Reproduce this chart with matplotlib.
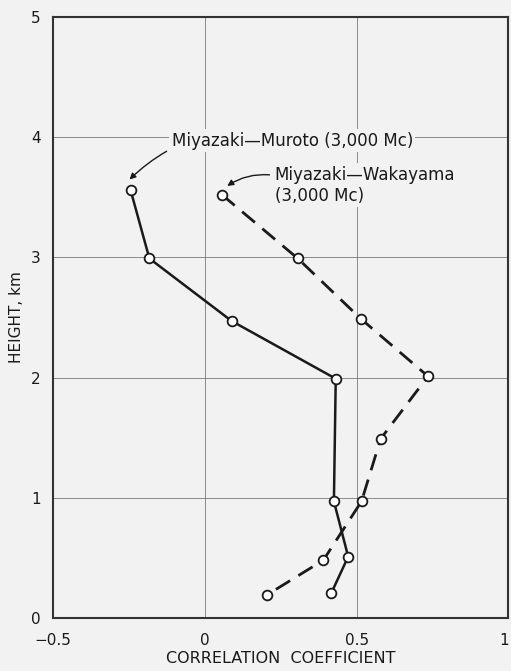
import matplotlib.pyplot as plt

# correlation coefficient vs height
muroto_r = [-0.245, -0.183, 0.088, 0.431, 0.425, 0.472, 0.417]
muroto_h = [3.56, 2.99, 2.47, 1.99, 0.97, 0.51, 0.21]

wakayama_r = [0.056, 0.306, 0.513, 0.735, 0.579, 0.516, 0.390, 0.203]
wakayama_h = [3.52, 2.99, 2.49, 2.01, 1.49, 0.97, 0.48, 0.19]

xticks = [-0.5, 0, 0.5, 1]
xticklabels = ["\u22120.5", "0", "0.5", "1"]
yticks = [0, 1, 2, 3, 4, 5]

bg = "#f2f2f2"
ink = "#1a1a1a"

fig = plt.figure(figsize=(5.11, 6.71), dpi=100, facecolor=bg)
ax = fig.add_axes([0.104, 0.079, 0.891, 0.896], facecolor=bg)

ax.set_xlim(-0.5, 1)
ax.set_ylim(0, 5)
ax.set_xticks(xticks)
ax.set_xticklabels(xticklabels)
ax.set_yticks(yticks)
ax.tick_params(length=0, labelsize=11, colors=ink)
ax.tick_params(axis="x", pad=11)
ax.tick_params(axis="y", pad=9)
# last x label sits right at the figure edge
ax.get_xticklabels()[-1].set_horizontalalignment("right")
ax.grid(True, color="#7a7a7a", lw=0.6)
ax.set_axisbelow(True)
for s in ax.spines.values():
    s.set_linewidth(1.5)
    s.set_color("#333333")

mk = dict(marker="o", markersize=7, markerfacecolor="white",
          markeredgecolor=ink, markeredgewidth=1.3)
ax.plot(muroto_r, muroto_h, color=ink, lw=1.8, zorder=3, **mk)
ax.plot(wakayama_r, wakayama_h, color=ink, lw=2.0,
        linestyle=(0, (6, 3.5)), zorder=3, **mk)

box = dict(boxstyle="square,pad=0.15", facecolor=bg, edgecolor="none")
ax.annotate("Miyazaki\u2014Muroto (3,000 Mc)",
            xy=(muroto_r[0] - 0.01, muroto_h[0] + 0.07),
            xytext=(-0.11, 3.97), fontsize=12, color=ink,
            va="center", ha="left", bbox=box,
            arrowprops=dict(arrowstyle="-|>", color=ink, lw=1.0,
                            mutation_scale=9, shrinkA=2, shrinkB=2,
                            connectionstyle="arc3,rad=0.3"))
ax.annotate("Miyazaki\u2014Wakayama\n(3,000 Mc)",
            xy=(wakayama_r[0] + 0.01, wakayama_h[0] + 0.06),
            xytext=(0.23, 3.6), fontsize=12, color=ink,
            va="center", ha="left", linespacing=1.2, bbox=box,
            arrowprops=dict(arrowstyle="-|>", color=ink, lw=1.0,
                            mutation_scale=9, shrinkA=2, shrinkB=2,
                            relpos=(0, 0.75),
                            connectionstyle="arc3,rad=0.2"))

ax.set_xlabel("CORRELATION  COEFFICIENT", fontsize=11.5, color=ink,
              labelpad=2)
ax.set_ylabel("HEIGHT, km", fontsize=11, color=ink, labelpad=5)

fig.savefig("out.png", dpi=100, facecolor=bg)
